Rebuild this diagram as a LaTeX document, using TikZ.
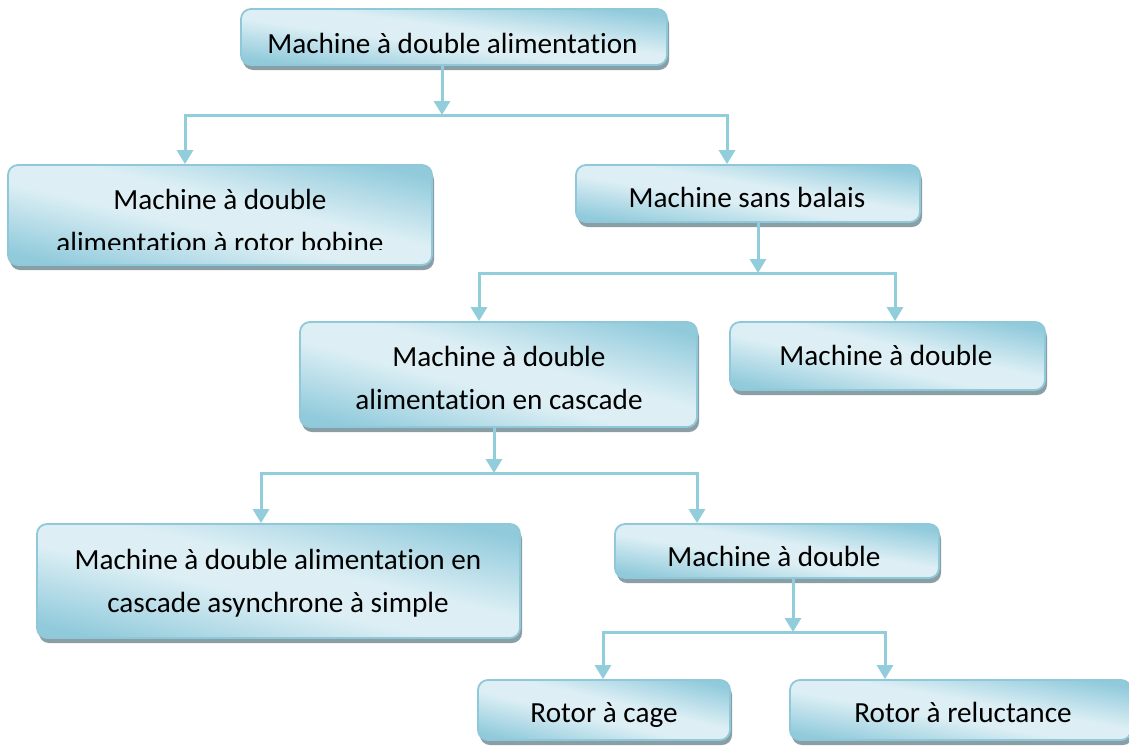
\documentclass[tikz,border=0pt]{standalone}
\usepackage{fontspec}
\setmainfont{Carlito}[Ligatures={NoCommon}]
\usetikzlibrary{arrows.meta,shadows}
\definecolor{bdk}{HTML}{90CADB}
\definecolor{blt}{HTML}{DDEFF5}
\definecolor{bord}{HTML}{8FC9D9}
\definecolor{shd}{HTML}{8A9EA6}
\definecolor{conn}{HTML}{92CDDC}
\pgfdeclarehorizontalshading{wordblue}{100bp}{color(0bp)=(bdk); color(19bp)=(bdk); color(44bp)=(blt); color(56bp)=(blt); color(81bp)=(bdk); color(100bp)=(bdk)}
\begin{document}
\begin{tikzpicture}[x=1pt,y=-1pt,
 box/.style 2 args={draw=bord, line width=1.8pt, rounded corners=10pt, fill=blt,
   minimum width=#1pt, minimum height=#2pt,
   path picture={\begin{pgfscope}\pgftransformreset
     \pgftransformshift{\pgfpointanchor{path picture bounding box}{center}}%
     \pgftransformxscale{#1/50}\pgftransformyscale{#2/50}\pgftransformrotate{45}%
     \pgflowlevelsynccm\pgfuseshading{wordblue}\end{pgfscope}},
   drop shadow={shadow xshift=2pt, shadow yshift=-5pt, fill=shd, opacity=1}, inner sep=0pt},
 txt/.style={font=\fontsize{29.2}{43}\selectfont, align=center, inner sep=0pt, anchor=base, text=black},
 line/.style={draw=conn, line width=3pt},
 arr/.style={line, -{Triangle[width=16pt,length=14pt]}}]
\useasboundingbox (0,0) rectangle (1129,747);
\clip (0,0) rectangle (1129,747);
\fill[white] (0,0) rectangle (1129,747);
% boxes
\node[box={426}{56}] (top) at (454,37) {};
\node[box={424}{100}] (b2) at (220,215) {};
\node[box={344}{57}] (b3) at (748,193.5) {};
\node[box={397}{105}] (b4) at (498.5,374.5) {};
\node[box={315}{68}] (b5) at (887.5,356) {};
\node[box={483}{114}] (b6) at (278.5,581) {};
\node[box={324}{54}] (b7) at (777,551) {};
\node[box={252}{60}] (b8) at (604,710) {};
\node[box={341}{60}] (b9) at (960.5,710) {};
% texts (base anchor = baseline of the last line)
\node[txt] (t1) at (452.5,53) {Machine à double alimentation};
\begin{scope}
\clip (0,150) rectangle (450,249);
\node[txt] (t2) at (220,252) {Machine à double\\alimentation à rotor bobine};
\end{scope}
\node[txt] (t3) at (747,207) {Machine sans balais};
\node[txt] (t4) at (499,409) {Machine à double\\alimentation en cascade};
\node[txt] (t5) at (886,365) {Machine à double};
\node[txt] (t6) at (278,612) {Machine à double alimentation en\\cascade asynchrone à simple};
\node[txt] (t7) at (774,566) {Machine à double};
\node[txt] (t8) at (604,722) {Rotor à cage};
\node[txt] (t9) at (963,722) {Rotor à reluctance};
% connectors
\coordinate (p1) at (442,115); \coordinate (l1) at (185,115); \coordinate (r1) at (727,115);
\draw[arr] (top.south -| p1) -- (p1);
\draw[arr] (r1) -- (l1) -- (b2.north -| l1);
\draw[arr] (p1) -- (r1) -- (b3.north -| r1);
\coordinate (p2) at (758,273); \coordinate (l2) at (479,273); \coordinate (r2) at (895,273);
\draw[arr] (b3.south -| p2) -- (p2);
\draw[arr] (r2) -- (l2) -- (b4.north -| l2);
\draw[arr] (p2) -- (r2) -- (b5.north -| r2);
\coordinate (p3) at (494,473); \coordinate (l3) at (261,473); \coordinate (r3) at (697,473);
\draw[arr] (b4.south -| p3) -- (p3);
\draw[arr] (r3) -- (l3) -- (b6.north -| l3);
\draw[arr] (p3) -- (r3) -- (b7.north -| r3);
\coordinate (p4) at (793,632); \coordinate (l4) at (603,632); \coordinate (r4) at (885,632);
\draw[arr] (b7.south -| p4) -- (p4);
\draw[arr] (r4) -- (l4) -- (b8.north -| l4);
\draw[arr] (p4) -- (r4) -- (b9.north -| r4);
\end{tikzpicture}
\end{document}
